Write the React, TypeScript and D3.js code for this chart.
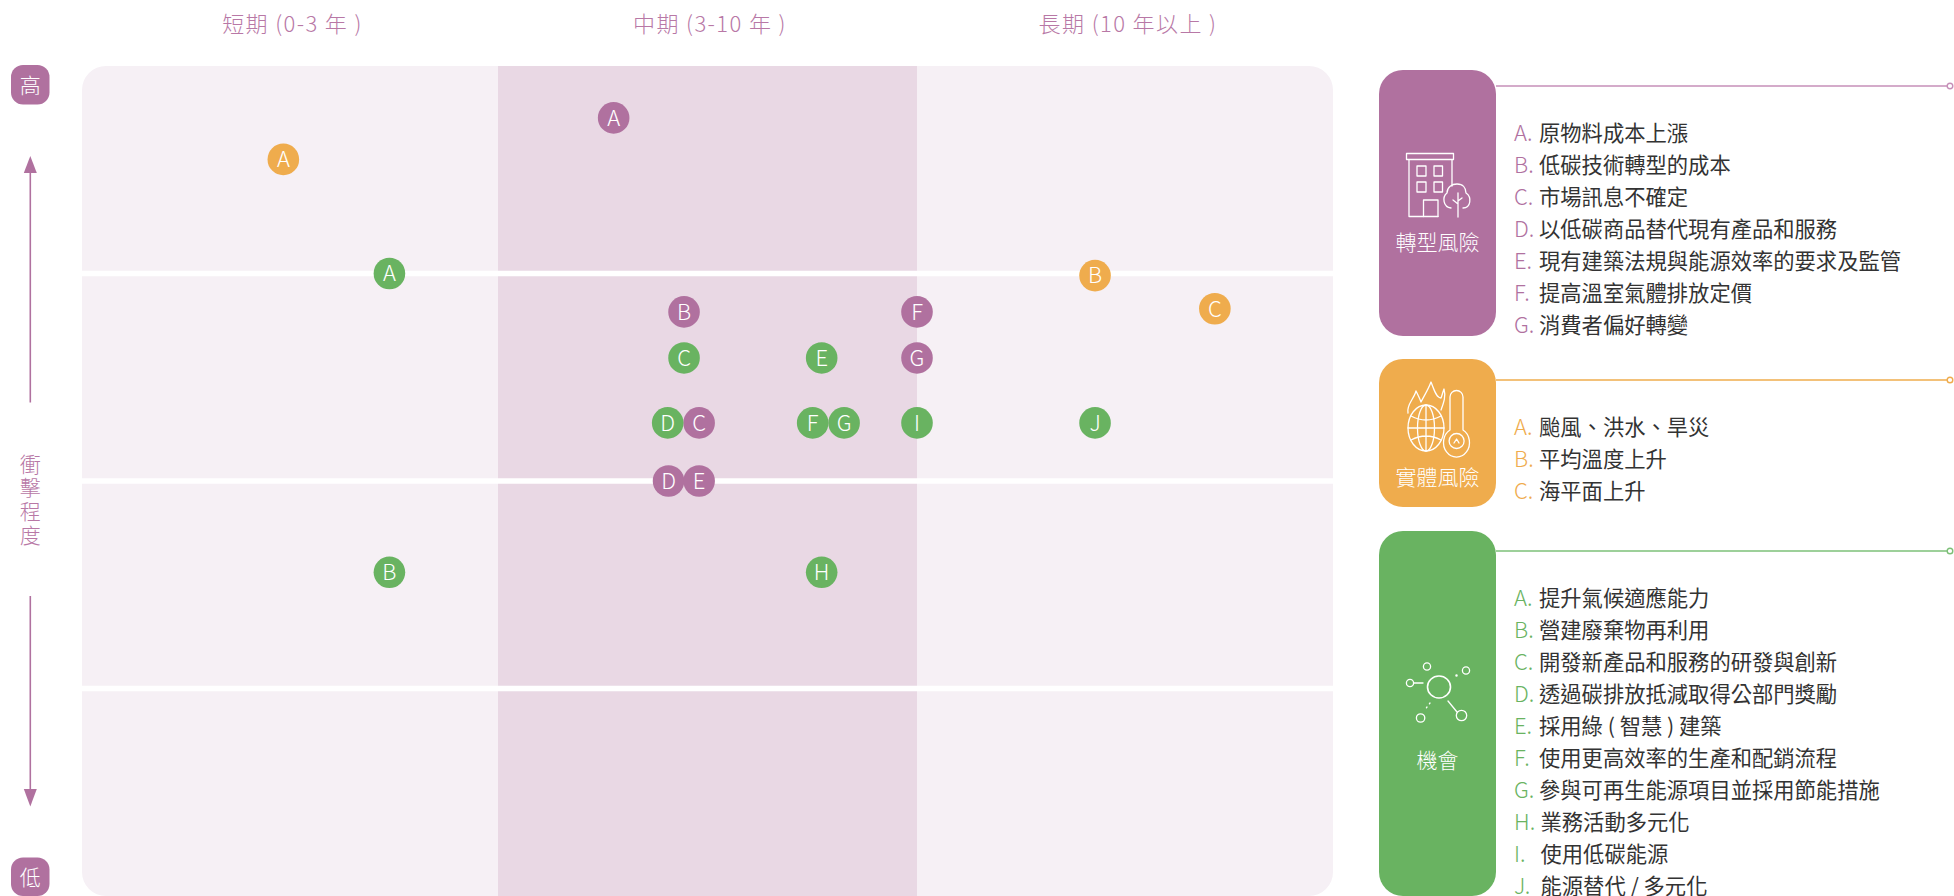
import React from "react";
import * as d3 from "d3";

const W = 1954;
const H = 896;
const FONT = '"Noto Sans CJK TC", "Noto Sans", sans-serif';

const PURPLE = "#b0719f";
const ORANGE = "#efac4d";
const GREEN = "#69b361";

const columnLabels = ["短期 (0-3 年 )", "中期 (3-10 年 )", "長期 (10 年以上 )"];
const impactLabel = ["衝", "擊", "程", "度"];

// x = position along the 3 time columns, y = position along the 4 impact rows (0 bottom)
const transitionPoints = [
  ["A", 1.276, 3.75],
  ["B", 1.444, 2.815],
  ["C", 1.48, 2.28],
  ["D", 1.407, 2.0],
  ["E", 1.48, 2.0],
  ["F", 2.0, 2.815],
  ["G", 2.0, 2.593],
] as const;
const physicalPoints = [
  ["A", 0.484, 3.55],
  ["B", 2.428, 2.99],
  ["C", 2.716, 2.83],
] as const;
const opportunityPoints = [
  ["A", 0.739, 3.0],
  ["B", 0.739, 1.56],
  ["C", 1.444, 2.593],
  ["D", 1.405, 2.28],
  ["E", 1.7725, 2.593],
  ["F", 1.751, 2.28],
  ["G", 1.826, 2.28],
  ["H", 1.7725, 1.56],
  ["I", 2.0, 2.28],
  ["J", 2.428, 2.28],
] as const;

const transitionItems = [
  "原物料成本上漲",
  "低碳技術轉型的成本",
  "市場訊息不確定",
  "以低碳商品替代現有產品和服務",
  "現有建築法規與能源效率的要求及監管",
  "提高溫室氣體排放定價",
  "消費者偏好轉變",
];
const physicalItems = ["颱風、洪水、旱災", "平均溫度上升", "海平面上升"];
const opportunityItems = [
  "提升氣候適應能力",
  "營建廢棄物再利用",
  "開發新產品和服務的研發與創新",
  "透過碳排放抵減取得公部門獎勵",
  "採用綠 ( 智慧 ) 建築",
  "使用更高效率的生產和配銷流程",
  "參與可再生能源項目並採用節能措施",
  "業務活動多元化",
  "使用低碳能源",
  "能源替代 / 多元化",
];
const letters = "ABCDEFGHIJ".split("");

const x = d3.scaleLinear().domain([0, 1, 2, 3]).range([82, 498, 917, 1333]);
const y = d3.scaleLinear().domain([0, 4]).range([896, 66]);

const Dots = ({ points, color }: { points: readonly (readonly [string, number, number])[]; color: string }) => (
  <g>
    {points.map(([label, px, py]) => (
      <g key={label} transform={`translate(${x(px)},${y(py)})`}>
        <circle r={15.8} fill={color} />
        <text dy="0.36em" textAnchor="middle" fontSize={22} fontWeight={300} fill="#fff">
          {label}
        </text>
      </g>
    ))}
  </g>
);

const Legend = ({ top, bottom, lineY, firstRow, title, titleY, items, color, lineColor, children }: any) => {
  const row = d3.scaleLinear().domain([0, 1]).range([firstRow, firstRow + 32]);
  return (
    <g>
      <rect x={1379} y={top} width={117} height={bottom - top} rx={24} fill={color} />
      <line x1={1496} x2={1947} y1={lineY} y2={lineY} stroke={lineColor} strokeWidth={1.6} />
      <circle cx={1950} cy={lineY} r={2.8} fill="#fff" stroke={lineColor} strokeWidth={1.4} />
      <g fill="none" stroke="#fff" strokeWidth={1.3} strokeLinejoin="round" strokeLinecap="round">
        {children}
      </g>
      <text x={1437.5} y={titleY} dy="0.36em" textAnchor="middle" fontSize={21} fontWeight={300} fill="#fff">
        {title}
      </text>
      {items.map((item: string, i: number) => (
        <g key={item} fontSize={21.3}>
          <text x={1514} y={row(i)} dy="0.36em" fontSize={22} fontWeight={300} fill={color}>
            {letters[i]}.
          </text>
          <text x={"HIJ".includes(letters[i]) ? 1540.5 : 1539} y={row(i)} dy="0.36em" fontWeight={400} fill="#333">
            {item}
          </text>
        </g>
      ))}
    </g>
  );
};

export default function App() {
  const rowEdges = [1, 2, 3];
  return (
    <svg
      width={W}
      height={H}
      viewBox={`0 0 ${W} ${H}`}
      fontFamily={FONT}
      style={{ position: "absolute", left: 0, top: 0, display: "block", background: "#fff" }}
    >
      <defs>
        <clipPath id="panel">
          <rect x={x(0)} y={y(4)} width={x(3) - x(0)} height={y(0) - y(4)} rx={24} />
        </clipPath>
      </defs>

      {/* column headers */}
      {columnLabels.map((label, i) => (
        <text
          key={label}
          x={[292.5, 710, 1128][i]}
          y={24}
          dy="0.36em"
          textAnchor="middle"
          fontSize={22}
          fontWeight={300}
          letterSpacing={1.4}
          fill="#b878a6"
        >
          {label}
        </text>
      ))}

      {/* matrix background */}
      <g clipPath="url(#panel)">
        <rect x={x(0)} y={y(4)} width={x(3) - x(0)} height={y(0) - y(4)} fill="#f6f0f5" />
        <rect x={x(1)} y={y(4)} width={x(2) - x(1)} height={y(0) - y(4)} fill="#e9d8e4" />
        {rowEdges.map((r) => (
          <line key={r} x1={x(0)} x2={x(3)} y1={y(r)} y2={y(r)} stroke="#fff" strokeWidth={5.4} />
        ))}
      </g>

      {/* impact axis */}
      <rect x={11} y={65} width={38.5} height={39.5} rx={12} fill={PURPLE} />
      <text x={30.3} y={85} dy="0.36em" textAnchor="middle" fontSize={21} fontWeight={300} fill="#fff">
        高
      </text>
      <rect x={11} y={857.5} width={38.5} height={38.5} rx={12} fill={PURPLE} />
      <text x={30.3} y={877} dy="0.36em" textAnchor="middle" fontSize={21} fontWeight={300} fill="#fff">
        低
      </text>
      <g fill={PURPLE} stroke={PURPLE}>
        <line x1={30.3} x2={30.3} y1={402.5} y2={170} strokeWidth={1.6} />
        <path d="M30.3 156 L36.8 173 L23.8 173 Z" strokeWidth={0} />
        <line x1={30.3} x2={30.3} y1={596} y2={792} strokeWidth={1.6} />
        <path d="M30.3 806.5 L36.8 789 L23.8 789 Z" strokeWidth={0} />
      </g>
      {impactLabel.map((c, i) => (
        <text key={c} x={30.3} y={464 + i * 23.7} dy="0.36em" textAnchor="middle" fontSize={21} fontWeight={300} fill="#b878a6">
          {c}
        </text>
      ))}

      <Dots points={physicalPoints} color={ORANGE} />
      <Dots points={transitionPoints} color={PURPLE} />
      <Dots points={opportunityPoints} color={GREEN} />

      <Legend
        top={70}
        bottom={336}
        lineY={86}
        firstRow={133}
        title="轉型風險"
        titleY={242}
        items={transitionItems}
        color={PURPLE}
        lineColor="#c68fb8"
      >
        <rect x={1406.5} y={153.5} width={47} height={6} />
        <path d="M1409 160 V216.5 H1438 M1452 160 V186" />
        <rect x={1417} y={166} width={9} height={10} />
        <rect x={1434} y={166} width={8.5} height={10} />
        <rect x={1417} y={182} width={9} height={10} />
        <rect x={1434} y={182} width={8.5} height={10} />
        <path d="M1423.5 216.5 V200 H1438 V216.5" />
        <path d="M1451 208 C1443 207 1442 197 1447 193 C1447 187 1452 184 1457 184 C1463 184 1466 188 1466 193 C1472 197 1471 208 1463 208" />
        <path d="M1458 193 V217 M1458 204 L1453 200 M1458 201 L1462 198" />
      </Legend>

      <Legend
        top={359}
        bottom={507}
        lineY={380}
        firstRow={427}
        title="實體風險"
        titleY={477}
        items={physicalItems}
        color={ORANGE}
        lineColor={ORANGE}
      >
        <ellipse cx={1426} cy={428} rx={18} ry={23} />
        <ellipse cx={1426} cy={428} rx={8.5} ry={23} />
        <path d="M1426 405 V451 M1408 428 H1444 M1411 416 Q1426 424 1441 416 M1411 440 Q1426 432 1441 440" />
        <path d="M1450 430 V397 A6.5 6.5 0 0 1 1463 397 V430 A13 14.5 0 1 1 1450 430 Z" fill={ORANGE} />
        <circle cx={1456.6} cy={441} r={7.5} />
        <path d="M1454 443 L1456.6 439 L1459 443" />
        <path d="M1408 413 C1406 405 1414 399 1416 391 C1419 397 1420 399 1421 402 C1424 396 1428 390 1431 382 C1434 389 1436 398 1441 398 C1442 396 1443 391 1444 389 C1446 396 1444 402 1441 410" />
      </Legend>

      <Legend
        top={531}
        bottom={896}
        lineY={551}
        firstRow={598}
        title="機會"
        titleY={760}
        items={opportunityItems}
        color={GREEN}
        lineColor="#7dc078"
      >
        <ellipse cx={1439} cy={687} rx={11.5} ry={11} strokeWidth={1.6} />
        <circle cx={1427} cy={666.5} r={3.6} />
        <circle cx={1466} cy={670.5} r={3.6} />
        <circle cx={1410} cy={683} r={3.6} />
        <circle cx={1420.6} cy={718} r={4.2} />
        <circle cx={1461.5} cy={715.5} r={5.2} />
        <path d="M1414 683 H1423 M1448 701 L1457 712" />
        <path d="M1430 703 L1424 711" strokeDasharray="1 4" />
        <circle cx={1456.5} cy={675.5} r={0.6} />
      </Legend>
    </svg>
  );
}
